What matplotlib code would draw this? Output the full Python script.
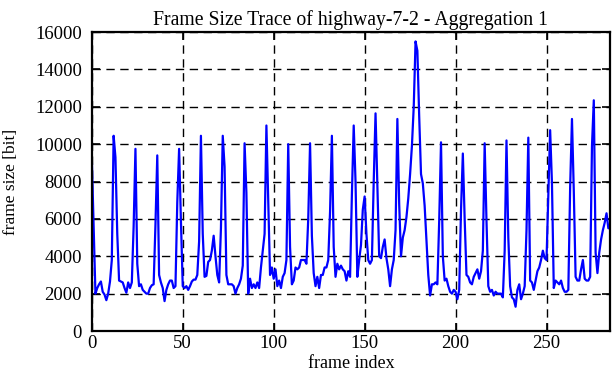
import matplotlib
matplotlib.use("Agg")
import matplotlib.pyplot as plt
import numpy as np

# frame sizes [bit], one row per GOP of 12 frames
gop_sizes = [
    [9250, 5600, 2000, 2300, 2500, 2650, 2100, 1950, 1650, 2000, 2650, 3800],
    [10450, 9300, 5200, 2700, 2650, 2600, 2300, 2050, 2600, 2300, 2600, 5600],
    [9750, 3600, 2400, 2500, 2200, 2100, 2000, 2000, 2300, 2450, 2500, 5700],
    [9400, 3000, 2600, 2300, 1600, 2200, 2500, 2700, 2700, 2300, 2400, 6900],
    [9750, 5900, 2400, 2300, 2400, 2200, 2400, 2650, 2750, 2750, 3000, 4800],
    [10450, 5200, 2900, 2950, 3700, 3800, 4300, 5100, 4000, 3000, 2600, 5500],
    [10450, 8800, 3000, 2500, 2500, 2500, 2400, 2000, 2300, 2500, 2800, 3500],
    [10050, 7400, 2000, 2800, 2300, 2500, 2300, 2600, 2300, 3400, 4300, 5200],
    [11000, 7000, 3000, 3400, 2800, 3300, 2400, 2700, 2300, 2900, 3100, 3800],
    [10000, 4500, 2500, 2700, 3400, 3300, 3400, 3800, 3800, 3800, 3600, 6000],
    [10050, 5100, 3100, 2400, 2900, 2300, 3000, 3000, 3400, 3400, 3800, 6400],
    [10450, 4500, 2900, 3600, 3300, 3500, 3300, 3200, 2700, 3200, 2900, 7300],
    [11000, 8000, 2900, 3800, 4600, 6500, 7200, 5200, 3800, 3600, 3800, 8000],
    [11650, 7900, 4000, 3900, 4500, 4900, 3900, 3300, 2400, 3300, 3800, 5400],
    [11350, 6800, 4000, 5000, 5400, 6100, 7100, 8400, 9900, 12000, 15500, 15000],
    [11500, 8400, 7900, 6700, 4900, 3000, 1900, 2500, 2500, 2600, 2500, 5900],
    [10100, 4000, 2700, 2800, 2400, 2100, 2000, 2200, 2100, 1700, 2200, 6500],
    [9500, 6000, 3000, 2900, 2600, 2500, 2900, 3100, 3300, 2800, 3200, 4300],
    [10050, 5900, 2400, 2100, 2200, 1900, 2100, 2000, 2000, 2000, 1800, 4300],
    [10200, 5000, 2400, 1800, 1700, 1300, 2200, 2500, 1700, 2000, 2400, 5400],
    [10350, 2700, 2600, 2200, 2700, 3200, 3400, 3800, 4300, 3900, 3800, 7300],
    [10750, 7900, 2300, 2700, 2600, 2500, 2700, 2300, 2100, 2100, 2200, 7700],
    [11350, 7500, 2900, 2700, 2700, 3300, 3800, 2800, 2700, 2700, 2900, 9900],
    [12350, 4200, 3100, 4200, 4900, 5400, 5800, 6300, 5500, 5500],
]
frame_size = [v for gop in gop_sizes for v in gop]
frame_index = list(range(len(frame_size)))

x_ticks = [0, 50, 100, 150, 200, 250]
y_ticks = [0, 2000, 4000, 6000, 8000, 10000, 12000, 14000, 16000]

plt.rcParams['font.family'] = ['Liberation Serif', 'DejaVu Serif']

fig = plt.figure(figsize=(6.12, 3.82), dpi=100)
ax = fig.add_axes([0.150, 0.1335, 0.847, 0.7825])

ax.plot(frame_index, frame_size, color='#0000ff', linewidth=1.6)

ax.set_xlim(0, 285)
ax.set_ylim(0, 16000)
ax.set_xticks(x_ticks)
ax.set_yticks(y_ticks)
ax.grid(True, color='black', linestyle=(0, (6, 4)), linewidth=1.0)
ax.set_axisbelow(True)
ax.tick_params(direction='in', length=6, width=1.2, top=True, right=True,
               labelsize=13.5)
ax.tick_params(axis='x', pad=3)
ax.tick_params(axis='y', pad=7)
for sp in ax.spines.values():
    sp.set_linewidth(1.6)

ax.set_xlabel('frame index', fontsize=13, labelpad=2)
ax.set_ylabel('frame size [bit]', fontsize=12.5, labelpad=12)
ax.set_title('Frame Size Trace of highway-7-2 - Aggregation 1', fontsize=14.2, pad=5)

fig.savefig('out.png', dpi=100)
